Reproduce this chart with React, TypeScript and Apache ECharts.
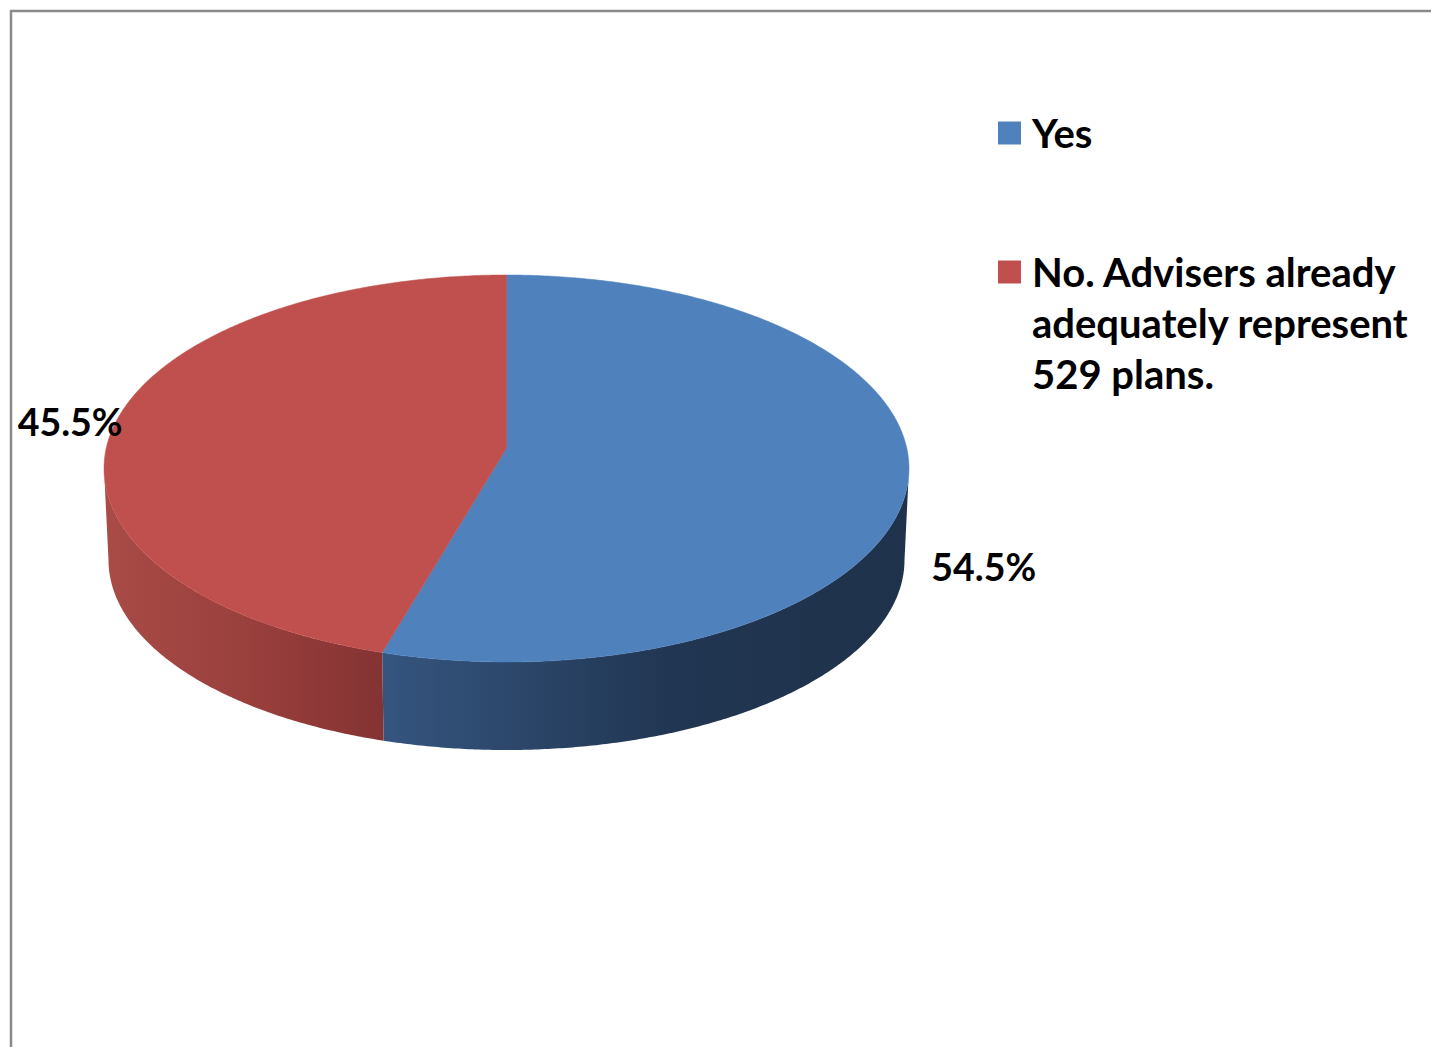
import React, { useEffect, useRef } from 'react';
import * as echarts from 'echarts';

// ---- data ----
const CATEGORIES = ['Yes', 'No. Advisers already\nadequately represent\n529 plans.'];
const VALUES = [54.5, 45.5];

// ---- styles / layout ----
const TOP_COLORS = ['#4f81bd', '#c0504d'];
const SIDE_STOPS = [
  [
    { offset: 0, color: '#35557f' },
    { offset: 0.55, color: '#213652' },
    { offset: 1, color: '#1f324b' },
  ],
  [
    { offset: 0, color: '#a94b47' },
    { offset: 0.5, color: '#9a403d' },
    { offset: 1, color: '#843333' },
  ],
];
const CX = 506.5;
const CY = 468.5;
const RX = 402.5;
const RY = 193.5;
const PERSPECTIVE = -0.106; // shift of the projected centre (perspective)
const BOT_CY = 560;
const BOT_RX = 398;
const BOT_RY = 190;
const LABEL_OFFSETS = [
  [75, 91],
  [-46, 0],
];
const FONT_FAMILY = 'Lato, "Noto Sans", sans-serif';

// map a data angle (clockwise from 12 o'clock) to an ellipse parametric angle, with perspective
function warp(theta: number) {
  if (theta >= Math.PI * 2 - 1e-9) return Math.PI * 2;
  const x = Math.sin(theta);
  const y = -Math.cos(theta);
  const t = PERSPECTIVE;
  const d = 1 + t * y;
  const yp = (y + t) / d;
  const xp = (x * Math.sqrt(1 - t * t)) / d;
  let phi = Math.atan2(xp, -yp);
  if (phi < 0) phi += Math.PI * 2;
  return phi;
}

function pt(phi: number, cx: number, cy: number, rx: number, ry: number) {
  return [cx + rx * Math.sin(phi), cy - ry * Math.cos(phi)];
}

function arc(a: number, b: number, cx: number, cy: number, rx: number, ry: number) {
  const n = Math.max(2, Math.ceil(Math.abs(b - a) / (Math.PI / 360)));
  const out: number[][] = [];
  for (let k = 0; k <= n; k++) {
    out.push(pt(a + ((b - a) * k) / n, cx, cy, rx, ry));
  }
  return out;
}

export default function App() {
  const ref = useRef<HTMLDivElement>(null);
  useEffect(() => {
    if (!ref.current) return;
    const chart = echarts.init(ref.current, undefined, { renderer: 'svg' });
    const total = VALUES.reduce((s, v) => s + v, 0);
    const apex = [CX, CY + PERSPECTIVE * RY];

    const renderItem = (params: any, api: any) => {
      const i = params.dataIndex;
      let start = 0;
      for (let j = 0; j < i; j++) start += VALUES[j];
      const v = api.value(0) as number;
      const t0 = (start / total) * Math.PI * 2;
      const t1 = ((start + v) / total) * Math.PI * 2;
      const a0 = warp(t0);
      const a1 = warp(t1);
      const children: any[] = [];

      // top face
      const topPts = [apex, ...arc(a0, a1, CX, CY, RX, RY)];
      children.push({
        type: 'polygon',
        shape: { points: topPts },
        style: { fill: TOP_COLORS[i], stroke: TOP_COLORS[i], lineWidth: 0.5 },
        z2: 10,
      });

      // visible side face
      const s = Math.max(a0, Math.PI / 2);
      const e = Math.min(a1, (Math.PI * 3) / 2);
      if (e > s) {
        const sidePts = [
          ...arc(s, e, CX, CY, RX, RY),
          ...arc(e, s, CX, BOT_CY, BOT_RX, BOT_RY),
        ];
        children.push({
          type: 'polygon',
          shape: { points: sidePts },
          style: {
            fill: new echarts.graphic.LinearGradient(0, 0, 1, 0, SIDE_STOPS[i]),
          },
          z2: 1,
        });
      }

      // label
      const mid = warp((t0 + t1) / 2);
      const anchor = pt(mid, CX, CY, RX, RY);
      children.push({
        type: 'text',
        x: anchor[0] + LABEL_OFFSETS[i][0],
        y: anchor[1] + LABEL_OFFSETS[i][1],
        style: {
          text: v.toFixed(1) + '%',
          fill: '#000',
          font: `bold 37.5px ${FONT_FAMILY}`,
          align: 'center',
          verticalAlign: 'middle',
        },
        z2: 20,
      });

      return { type: 'group', children };
    };

    const legendGraphics: any[] = [];
    const legendY = [107.5, 246.5];
    CATEGORIES.forEach((name, i) => {
      legendGraphics.push({
        type: 'rect',
        shape: { x: 998, y: legendY[i] + 14, width: 23, height: 23 },
        style: { fill: TOP_COLORS[i] },
      });
      legendGraphics.push({
        type: 'text',
        x: 1032,
        y: legendY[i],
        style: {
          text: name,
          fill: '#000',
          font: `bold 40px ${FONT_FAMILY}`,
          lineHeight: 51,
          align: 'left',
          verticalAlign: 'top',
        },
      });
    });

    chart.setOption({
      animation: false,
      backgroundColor: '#ffffff',
      graphic: [
        {
          type: 'rect',
          shape: { x: 11, y: 11, width: 1500, height: 1100 },
          style: { fill: 'none', stroke: '#8a8a8a', lineWidth: 2.5 },
          silent: true,
        },
        ...legendGraphics,
      ],
      series: [
        {
          type: 'custom',
          coordinateSystem: 'none',
          silent: true,
          data: VALUES.map((v, i) => ({ name: CATEGORIES[i], value: v })),
          renderItem,
        },
      ],
    });
    return () => chart.dispose();
  }, []);
  return (
    <div
      ref={ref}
      style={{ position: 'fixed', left: 0, top: 0, width: 1431, height: 1047, background: '#fff' }}
    />
  );
}
